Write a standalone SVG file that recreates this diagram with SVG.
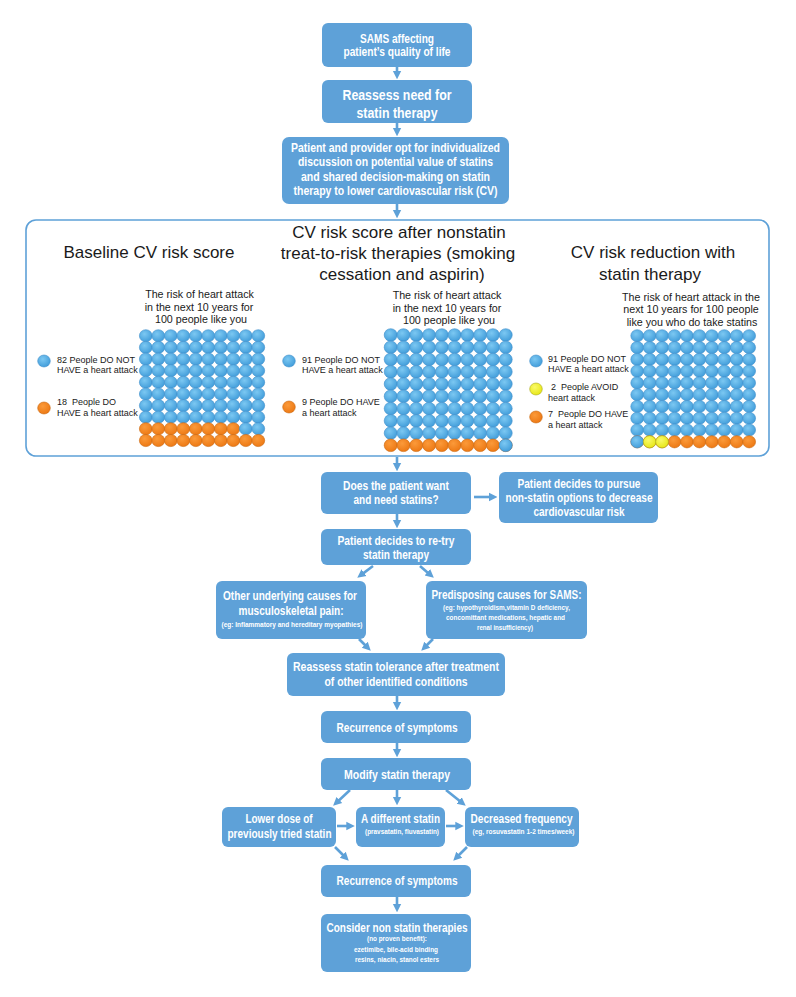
<svg xmlns="http://www.w3.org/2000/svg" xmlns:xlink="http://www.w3.org/1999/xlink" width="796" height="997" viewBox="0 0 796 997">
<style>
.box{fill:#5ea1d8;}
.bt{font-family:"Liberation Sans",Arial,sans-serif;font-weight:bold;fill:#ffffff;text-anchor:middle;}
.conn{stroke:#5ea1d8;stroke-width:2.6;fill:none;}
.ttl{font-family:"Liberation Sans",Arial,sans-serif;font-size:17px;fill:#1a1a1a;text-anchor:middle;}
.sub{font-family:"Liberation Sans",Arial,sans-serif;font-size:10.7px;fill:#1a1a1a;text-anchor:middle;}
.leg{font-family:"Liberation Sans",Arial,sans-serif;font-size:9px;fill:#1a1a1a;}
.cb{fill:url(#gb);stroke:#3f8fcb;stroke-width:0.6;}
.co{fill:url(#go);stroke:#c9670d;stroke-width:0.6;}
.cy{fill:url(#gy);stroke:#a9a91e;stroke-width:0.6;}
</style>
<defs>
<radialGradient id="gb" cx="0.4" cy="0.35" r="0.7"><stop offset="0" stop-color="#7cc8f2"/><stop offset="1" stop-color="#3f9bd9"/></radialGradient>
<radialGradient id="go" cx="0.4" cy="0.35" r="0.7"><stop offset="0" stop-color="#fb9a3a"/><stop offset="1" stop-color="#ec7712"/></radialGradient>
<radialGradient id="gy" cx="0.4" cy="0.35" r="0.7"><stop offset="0" stop-color="#fafa6a"/><stop offset="1" stop-color="#e6e612"/></radialGradient>
<marker id="ah" viewBox="0 0 10 10" refX="3.75" refY="5" markerWidth="8.5" markerHeight="10.5" markerUnits="userSpaceOnUse" orient="auto"><path d="M0,0 L10,5 L0,10 z" fill="#5ea1d8"/></marker>
<g id="rowL"><ellipse cx="0" cy="0" rx="6.4" ry="6.1"/><ellipse cx="12.5" cy="0" rx="6.4" ry="6.1"/><ellipse cx="25" cy="0" rx="6.4" ry="6.1"/><ellipse cx="37.5" cy="0" rx="6.4" ry="6.1"/><ellipse cx="50" cy="0" rx="6.4" ry="6.1"/><ellipse cx="62.5" cy="0" rx="6.4" ry="6.1"/><ellipse cx="75" cy="0" rx="6.4" ry="6.1"/><ellipse cx="87.5" cy="0" rx="6.4" ry="6.1"/><ellipse cx="100" cy="0" rx="6.4" ry="6.1"/><ellipse cx="112.5" cy="0" rx="6.4" ry="6.1"/></g>
<g id="rowM"><ellipse cx="0" cy="0" rx="6.5" ry="6.3"/><ellipse cx="12.78" cy="0" rx="6.5" ry="6.3"/><ellipse cx="25.56" cy="0" rx="6.5" ry="6.3"/><ellipse cx="38.34" cy="0" rx="6.5" ry="6.3"/><ellipse cx="51.12" cy="0" rx="6.5" ry="6.3"/><ellipse cx="63.9" cy="0" rx="6.5" ry="6.3"/><ellipse cx="76.68" cy="0" rx="6.5" ry="6.3"/><ellipse cx="89.46" cy="0" rx="6.5" ry="6.3"/><ellipse cx="102.24" cy="0" rx="6.5" ry="6.3"/><ellipse cx="115.02" cy="0" rx="6.5" ry="6.3"/></g>
<g id="rowR"><ellipse cx="0" cy="0" rx="6.4" ry="6.1"/><ellipse cx="12.44" cy="0" rx="6.4" ry="6.1"/><ellipse cx="24.88" cy="0" rx="6.4" ry="6.1"/><ellipse cx="37.32" cy="0" rx="6.4" ry="6.1"/><ellipse cx="49.76" cy="0" rx="6.4" ry="6.1"/><ellipse cx="62.2" cy="0" rx="6.4" ry="6.1"/><ellipse cx="74.64" cy="0" rx="6.4" ry="6.1"/><ellipse cx="87.08" cy="0" rx="6.4" ry="6.1"/><ellipse cx="99.52" cy="0" rx="6.4" ry="6.1"/><ellipse cx="111.96" cy="0" rx="6.4" ry="6.1"/></g>
</defs>
<rect width="796" height="997" fill="#ffffff"/>

<g id="connectors">
<line class="conn" x1="397" y1="67" x2="397" y2="74" marker-end="url(#ah)"/>
<line class="conn" x1="397" y1="123" x2="397" y2="131" marker-end="url(#ah)"/>
<line class="conn" x1="397" y1="204" x2="397" y2="213" marker-end="url(#ah)"/>
<line class="conn" x1="397" y1="457" x2="397" y2="466" marker-end="url(#ah)"/>
<line class="conn" x1="474" y1="497" x2="492" y2="497" marker-end="url(#ah)"/>
<line class="conn" x1="397" y1="514" x2="397" y2="523" marker-end="url(#ah)"/>
<line class="conn" x1="373" y1="566" x2="361.5" y2="574.6" marker-end="url(#ah)"/>
<line class="conn" x1="420" y1="566" x2="429.8" y2="574.4" marker-end="url(#ah)"/>
<line class="conn" x1="359" y1="639" x2="367" y2="647" marker-end="url(#ah)"/>
<line class="conn" x1="433" y1="639" x2="425" y2="647" marker-end="url(#ah)"/>
<line class="conn" x1="397" y1="696" x2="397" y2="705" marker-end="url(#ah)"/>
<line class="conn" x1="397" y1="743" x2="397" y2="752" marker-end="url(#ah)"/>
<line class="conn" x1="350" y1="790" x2="337" y2="802.2" marker-end="url(#ah)"/>
<line class="conn" x1="397" y1="790" x2="397" y2="800" marker-end="url(#ah)"/>
<line class="conn" x1="446" y1="790" x2="461.6" y2="802.5" marker-end="url(#ah)"/>
<line class="conn" x1="337" y1="826" x2="349.5" y2="826" marker-end="url(#ah)"/>
<line class="conn" x1="446" y1="826" x2="458.5" y2="826" marker-end="url(#ah)"/>
<line class="conn" x1="335" y1="847" x2="345" y2="857" marker-end="url(#ah)"/>
<line class="conn" x1="467" y1="847" x2="457" y2="857" marker-end="url(#ah)"/>
<line class="conn" x1="397" y1="897" x2="397" y2="907" marker-end="url(#ah)"/>
</g>

<g id="n1"><rect class="box" x="322" y="23" width="150" height="44" rx="6"/>
<text class="bt" font-size="12" x="397" y="42.5" textLength="74" lengthAdjust="spacingAndGlyphs">SAMS affecting</text>
<text class="bt" font-size="12" x="397" y="56" textLength="107" lengthAdjust="spacingAndGlyphs">patient’s quality of life</text></g>

<g id="n2"><rect class="box" x="322" y="80" width="150" height="43" rx="6"/>
<text class="bt" font-size="15" x="397" y="99.5" textLength="109" lengthAdjust="spacingAndGlyphs">Reassess need for</text>
<text class="bt" font-size="15" x="397" y="117.5" textLength="81" lengthAdjust="spacingAndGlyphs">statin therapy</text></g>

<g id="n3"><rect class="box" x="282" y="137" width="227" height="67" rx="7"/>
<text class="bt" font-size="12" x="395.5" y="151.5" textLength="209" lengthAdjust="spacingAndGlyphs">Patient and provider opt for individualized</text>
<text class="bt" font-size="12" x="395.5" y="166" textLength="195" lengthAdjust="spacingAndGlyphs">discussion on potential value of statins</text>
<text class="bt" font-size="12" x="395.5" y="180.5" textLength="189" lengthAdjust="spacingAndGlyphs">and shared decision-making on statin</text>
<text class="bt" font-size="12" x="395.5" y="195" textLength="204" lengthAdjust="spacingAndGlyphs">therapy to lower cardiovascular risk (CV)</text></g>

<g id="panel">
<rect x="26" y="220" width="743" height="236" rx="10" fill="#ffffff" stroke="#5ea1d8" stroke-width="1.6"/>
<text class="ttl" x="149" y="258">Baseline CV risk score</text>
<text class="ttl" x="399" y="238">CV risk score after nonstatin</text>
<text class="ttl" x="398" y="259">treat-to-risk therapies (smoking</text>
<text class="ttl" x="402" y="280">cessation and aspirin)</text>
<text class="ttl" x="653" y="258">CV risk reduction with</text>
<text class="ttl" x="650" y="280">statin therapy</text>

<text class="sub" x="199.5" y="298">The risk of heart attack</text>
<text class="sub" x="199" y="310.5">in the next 10 years for</text>
<text class="sub" x="201" y="323">100 people like you</text>
<text class="sub" x="447" y="299">The risk of heart attack</text>
<text class="sub" x="447" y="311.5">in the next 10 years for</text>
<text class="sub" x="449" y="324">100 people like you</text>
<text class="sub" font-size="10" x="691" y="300.5">The risk of heart attack in the</text>
<text class="sub" font-size="10" x="691" y="313">next 10 years for 100 people</text>
<text class="sub" font-size="10" x="692" y="325.5">like you who do take statins</text>

<ellipse class="cb" cx="44" cy="361" rx="6.3" ry="6"/>
<text class="leg" x="57" y="362.5">82 People DO NOT</text>
<text class="leg" x="57" y="373">HAVE a heart attack</text>
<ellipse class="co" cx="44" cy="408" rx="6.3" ry="6"/>
<text class="leg" x="57" y="404.5" xml:space="preserve">18  People DO</text>
<text class="leg" x="57" y="415.5">HAVE a heart attack</text>

<ellipse class="cb" cx="289" cy="361" rx="6.3" ry="6"/>
<text class="leg" x="302" y="362.5">91 People DO NOT</text>
<text class="leg" x="302" y="373">HAVE a heart attack</text>
<ellipse class="co" cx="289" cy="407" rx="6.3" ry="6"/>
<text class="leg" x="302" y="404.5">9 People DO HAVE</text>
<text class="leg" x="302" y="415.5">a heart attack</text>

<ellipse class="cb" cx="536" cy="361" rx="6.3" ry="6"/>
<text class="leg" x="548" y="361.5">91 People DO NOT</text>
<text class="leg" x="548" y="372">HAVE a heart attack</text>
<ellipse class="cy" cx="536" cy="389" rx="6.3" ry="6"/>
<text class="leg" x="551" y="389.5" xml:space="preserve">2  People AVOID</text>
<text class="leg" x="548" y="400.5">heart attack</text>
<ellipse class="co" cx="536" cy="417" rx="6.3" ry="6"/>
<text class="leg" x="548" y="416.5" xml:space="preserve">7  People DO HAVE</text>
<text class="leg" x="548" y="427.5">a heart attack</text>

<g id="gridL">
<use href="#rowL" class="cb" x="145.8" y="335.8"/>
<use href="#rowL" class="cb" x="145.8" y="347.4"/>
<use href="#rowL" class="cb" x="145.8" y="359.1"/>
<use href="#rowL" class="cb" x="145.8" y="370.7"/>
<use href="#rowL" class="cb" x="145.8" y="382.3"/>
<use href="#rowL" class="cb" x="145.8" y="394.0"/>
<use href="#rowL" class="cb" x="145.8" y="405.6"/>
<use href="#rowL" class="cb" x="145.8" y="417.2"/>
<g>
<ellipse class="co" cx="145.8" cy="428.8" rx="6.4" ry="6.1"/><ellipse class="co" cx="158.3" cy="428.8" rx="6.4" ry="6.1"/><ellipse class="co" cx="170.8" cy="428.8" rx="6.4" ry="6.1"/><ellipse class="co" cx="183.3" cy="428.8" rx="6.4" ry="6.1"/><ellipse class="co" cx="195.8" cy="428.8" rx="6.4" ry="6.1"/><ellipse class="co" cx="208.3" cy="428.8" rx="6.4" ry="6.1"/><ellipse class="co" cx="220.8" cy="428.8" rx="6.4" ry="6.1"/><ellipse class="co" cx="233.3" cy="428.8" rx="6.4" ry="6.1"/><ellipse class="cb" cx="245.8" cy="428.8" rx="6.4" ry="6.1"/><ellipse class="cb" cx="258.3" cy="428.8" rx="6.4" ry="6.1"/>
</g>
<use href="#rowL" class="co" x="145.8" y="440.5"/>
</g>

<g id="gridM">
<use href="#rowM" class="cb" x="390.7" y="335"/>
<use href="#rowM" class="cb" x="390.7" y="347.3"/>
<use href="#rowM" class="cb" x="390.7" y="359.5"/>
<use href="#rowM" class="cb" x="390.7" y="371.8"/>
<use href="#rowM" class="cb" x="390.7" y="384"/>
<use href="#rowM" class="cb" x="390.7" y="396.3"/>
<use href="#rowM" class="cb" x="390.7" y="408.6"/>
<use href="#rowM" class="cb" x="390.7" y="420.8"/>
<use href="#rowM" class="cb" x="390.7" y="433.1"/>
<use href="#rowM" class="co" x="390.7" y="445.3"/>
<ellipse class="cb" cx="505.72" cy="445.3" rx="6.5" ry="6.3"/>
</g>

<g id="gridR">
<use href="#rowR" class="cb" x="637.2" y="335.8"/>
<use href="#rowR" class="cb" x="637.2" y="347.6"/>
<use href="#rowR" class="cb" x="637.2" y="359.4"/>
<use href="#rowR" class="cb" x="637.2" y="371.1"/>
<use href="#rowR" class="cb" x="637.2" y="382.9"/>
<use href="#rowR" class="cb" x="637.2" y="394.7"/>
<use href="#rowR" class="cb" x="637.2" y="406.5"/>
<use href="#rowR" class="cb" x="637.2" y="418.3"/>
<use href="#rowR" class="cb" x="637.2" y="430.0"/>
<use href="#rowR" class="co" x="637.2" y="441.8"/>
<ellipse class="cb" cx="637.2" cy="441.8" rx="6.4" ry="6.1"/>
<ellipse class="cy" cx="649.64" cy="441.8" rx="6.4" ry="6.1"/>
<ellipse class="cy" cx="662.08" cy="441.8" rx="6.4" ry="6.1"/>
</g>
</g>

<g id="n4"><rect class="box" x="321" y="472" width="150" height="42" rx="6"/>
<text class="bt" font-size="12.5" x="396" y="489.5" textLength="106" lengthAdjust="spacingAndGlyphs">Does the patient want</text>
<text class="bt" font-size="12.5" x="396" y="503.5" textLength="85" lengthAdjust="spacingAndGlyphs">and need statins?</text></g>

<g id="n5"><rect class="box" x="499" y="472" width="159" height="51" rx="6"/>
<text class="bt" font-size="12.5" x="579" y="487.5" textLength="123" lengthAdjust="spacingAndGlyphs">Patient decides to pursue</text>
<text class="bt" font-size="12.5" x="579" y="501.5" textLength="147" lengthAdjust="spacingAndGlyphs">non-statin options to decrease</text>
<text class="bt" font-size="12.5" x="579" y="516" textLength="91" lengthAdjust="spacingAndGlyphs">cardiovascular risk</text></g>

<g id="n6"><rect class="box" x="321" y="529" width="150" height="36" rx="6"/>
<text class="bt" font-size="12.5" x="396" y="544.5" textLength="117" lengthAdjust="spacingAndGlyphs">Patient decides to re-try</text>
<text class="bt" font-size="12.5" x="396" y="558.5" textLength="66" lengthAdjust="spacingAndGlyphs">statin therapy</text></g>

<g id="n7"><rect class="box" x="216" y="581" width="150" height="58" rx="6"/>
<text class="bt" font-size="12.5" x="290" y="599.5" textLength="134" lengthAdjust="spacingAndGlyphs">Other underlying causes for</text>
<text class="bt" font-size="12.5" x="291" y="614.5" textLength="105" lengthAdjust="spacingAndGlyphs">musculoskeletal pain:</text>
<text class="bt" font-size="7" x="292" y="626.5" textLength="141" lengthAdjust="spacingAndGlyphs">(eg: Inflammatory and hereditary myopathies)</text></g>

<g id="n8"><rect class="box" x="426" y="581" width="161" height="58" rx="6"/>
<text class="bt" font-size="12.5" x="506.5" y="598.5" textLength="150" lengthAdjust="spacingAndGlyphs">Predisposing causes for SAMS:</text>
<text class="bt" font-size="7.5" x="506.5" y="609.5" textLength="127" lengthAdjust="spacingAndGlyphs">(eg: hypothyroidism,vitamin D deficiency,</text>
<text class="bt" font-size="7.5" x="505.5" y="619.5" textLength="119" lengthAdjust="spacingAndGlyphs">concomittant medications, hepatic and</text>
<text class="bt" font-size="7.5" x="505" y="629.5" textLength="56" lengthAdjust="spacingAndGlyphs">renal insufficiency)</text></g>

<g id="n9"><rect class="box" x="287" y="653" width="218" height="43" rx="6"/>
<text class="bt" font-size="12.5" x="396" y="670.5" textLength="206" lengthAdjust="spacingAndGlyphs">Reassess statin tolerance after treatment</text>
<text class="bt" font-size="12.5" x="396" y="685.5" textLength="143" lengthAdjust="spacingAndGlyphs">of other identified conditions</text></g>

<g id="n10"><rect class="box" x="321" y="711" width="150" height="32" rx="6"/>
<text class="bt" font-size="12.5" x="397" y="731.5" textLength="121" lengthAdjust="spacingAndGlyphs">Recurrence of symptoms</text></g>

<g id="n11"><rect class="box" x="321" y="758" width="150" height="32" rx="6"/>
<text class="bt" font-size="12.5" x="397" y="778.5" textLength="106" lengthAdjust="spacingAndGlyphs">Modify statin therapy</text></g>

<g id="n12"><rect class="box" x="222" y="807" width="114" height="40" rx="6"/>
<text class="bt" font-size="12.5" x="279" y="822.5" textLength="67" lengthAdjust="spacingAndGlyphs">Lower dose of</text>
<text class="bt" font-size="12.5" x="279.5" y="837.5" textLength="104" lengthAdjust="spacingAndGlyphs">previously tried statin</text></g>

<g id="n13"><rect class="box" x="356" y="807" width="89" height="40" rx="6"/>
<text class="bt" font-size="12.5" x="400.5" y="822.5" textLength="79" lengthAdjust="spacingAndGlyphs">A different statin</text>
<text class="bt" font-size="7.5" x="402" y="833.5" textLength="74" lengthAdjust="spacingAndGlyphs">(pravsatatin, fluvastatin)</text></g>

<g id="n14"><rect class="box" x="465" y="807" width="114" height="40" rx="6"/>
<text class="bt" font-size="12.5" x="521.5" y="822.5" textLength="102" lengthAdjust="spacingAndGlyphs">Decreased frequency</text>
<text class="bt" font-size="7.5" x="523.5" y="833.5" textLength="102" lengthAdjust="spacingAndGlyphs">(eg, rosuvastatin 1-2 times/week)</text></g>

<g id="n15"><rect class="box" x="321" y="865" width="150" height="32" rx="6"/>
<text class="bt" font-size="12.5" x="397" y="884.5" textLength="121" lengthAdjust="spacingAndGlyphs">Recurrence of symptoms</text></g>

<g id="n16"><rect class="box" x="321" y="914" width="150" height="58" rx="6"/>
<text class="bt" font-size="12.5" x="397" y="931.5" textLength="141" lengthAdjust="spacingAndGlyphs">Consider non statin therapies</text>
<text class="bt" font-size="7.5" x="397" y="941" textLength="60" lengthAdjust="spacingAndGlyphs">(no proven benefit):</text>
<text class="bt" font-size="7.5" x="396" y="951.5" textLength="84" lengthAdjust="spacingAndGlyphs">ezetimibe, bile-acid binding</text>
<text class="bt" font-size="7.5" x="397" y="962" textLength="84" lengthAdjust="spacingAndGlyphs">resins, niacin, stanol esters</text></g>
</svg>
